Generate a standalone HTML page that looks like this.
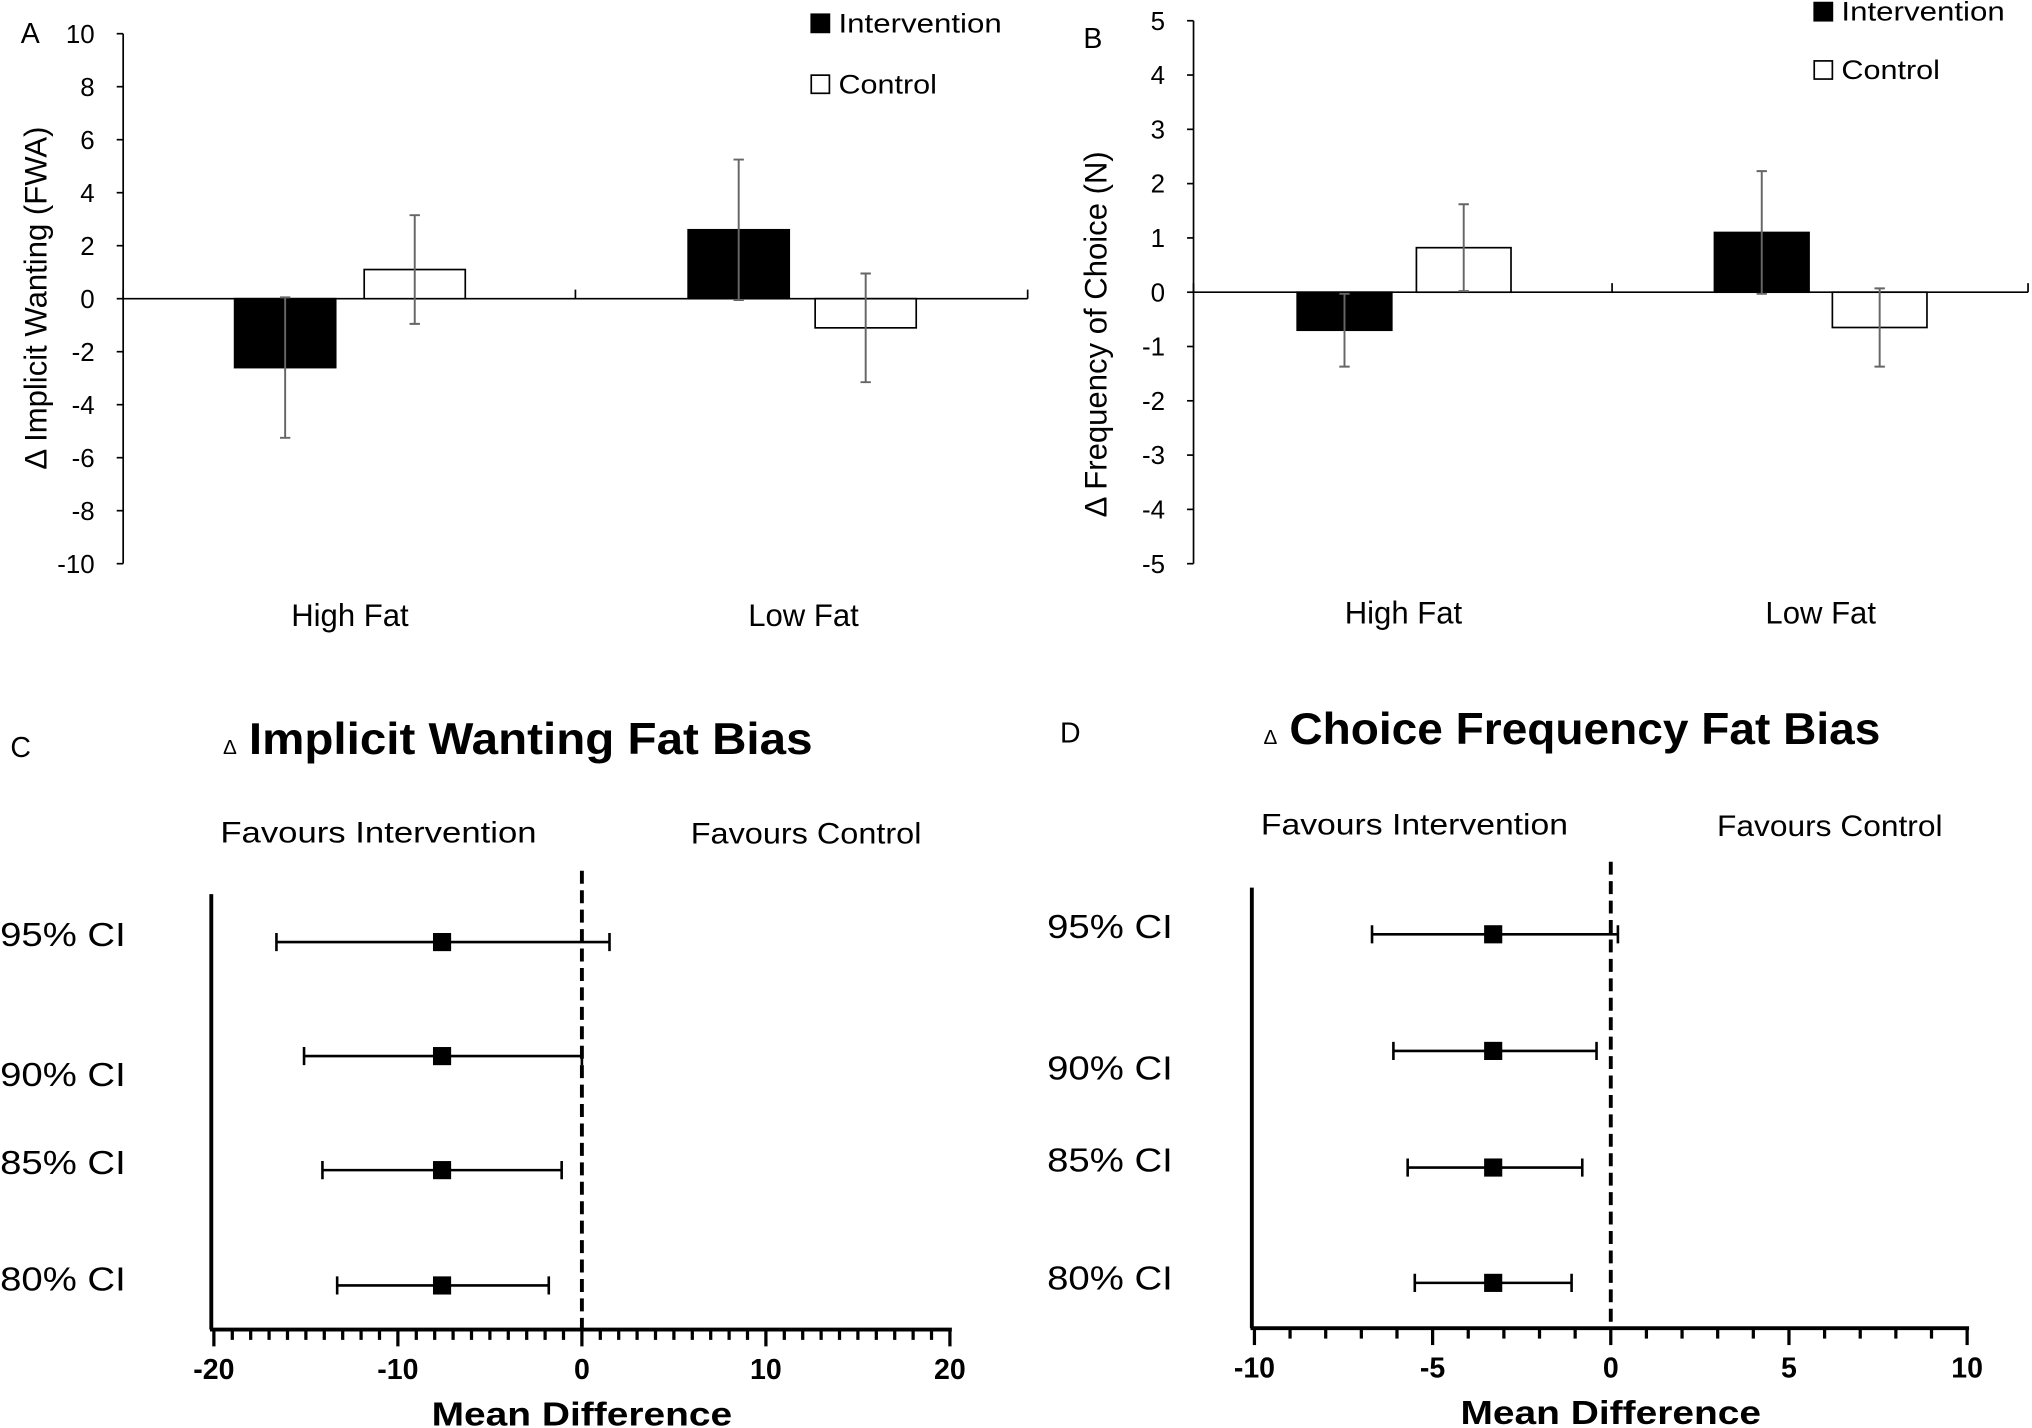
<!DOCTYPE html>
<html><head><meta charset="utf-8"><style>
html,body{margin:0;padding:0;background:#fff;}
svg{display:block;}
.s{font-family:"Liberation Sans","DejaVu Sans",sans-serif;}
</style></head><body>
<svg id="fig" width="2032" height="1428" viewBox="0 0 1568 1102" xmlns="http://www.w3.org/2000/svg" class="s">
<g id="A"></g>
<g id="B"></g>
<g id="C"></g>
<g id="D"></g>
</svg>
<script>
// Panel A data
const catsA = ["High Fat", "Low Fat"];
const interA = [-2.6, 2.6];
const interErrA = [2.65, 2.65];
const ctrlA = [1.1, -1.1];
const ctrlErrA = [2.05, 2.05];
const ticksA = [10, 8, 6, 4, 2, 0, -2, -4, -6, -8, -10];
// Panel B data
const catsB = ["High Fat", "Low Fat"];
const interB = [-0.7, 1.1];
const interErrB = [0.67, 1.13];
const ctrlB = [0.82, -0.65];
const ctrlErrB = [0.8, 0.72];
const ticksB = [5, 4, 3, 2, 1, 0, -1, -2, -3, -4, -5];
// Panel C data
const ciLabels = ["95% CI", "90% CI", "85% CI", "80% CI"];
const meanC = [-7.6, -7.6, -7.6, -7.6];
const lowC = [-16.6, -15.1, -14.1, -13.3];
const highC = [1.5, 0, -1.1, -1.8];
const ticksC = [-20, -10, 0, 10, 20];
// Panel D data
const meanD = [-3.3, -3.3, -3.3, -3.3];
const lowD = [-6.7, -6.1, -5.7, -5.5];
const highD = [0.2, -0.4, -0.8, -1.1];
const ticksD = [-10, -5, 0, 5, 10];

const NS = "http://www.w3.org/2000/svg";
function mk(parent, tag, attrs, text) {
  const e = document.createElementNS(NS, tag);
  for (const k in attrs) e.setAttribute(k, attrs[k]);
  if (text !== undefined) e.textContent = text;
  parent.appendChild(e);
  return e;
}
const SA = "spacingAndGlyphs";

function barPanel(g, o) {
  const y = v => o.y0 + (o.vmax - v) * (o.y1 - o.y0) / (o.vmax - o.vmin);
  const ax = mk(g, "line", {x1:o.ax, y1:o.y0, x2:o.ax, y2:o.y1, stroke:"#000", "stroke-width":1.3});
  
  
  o.ticks.forEach(t => {
    const tl = mk(g, "line", {x1:o.ax-5, x2:o.ax, y1:y(t), y2:y(t), stroke:"#000", "stroke-width":1.3});
    
    
    const tx = mk(g, "text", {x:o.ax-22, y:y(t)+7, "text-anchor":"end", "font-size":20}, String(t));
    
    
  });
  const xa = mk(g, "line", {x1:o.ax, x2:o.xend, y1:y(0), y2:y(0), stroke:"#000", "stroke-width":1.3});
  
  
  [o.ax, o.xmid, o.xend].forEach(x => {
    const t = mk(g, "line", {x1:x, x2:x, y1:y(0), y2:y(0)-7, stroke:"#000", "stroke-width":1.3});
    
    
  });
  o.cats.forEach((c, i) => {
    const groups = [[o.inter[i], o.interErr[i], o.intX[i], "#000", "bar-intervention"], [o.ctrl[i], o.ctrlErr[i], o.ctrlX[i], "#fff", "bar-control"]];
    groups.forEach(([v, e, x, fill, nm]) => {
      const r = mk(g, "rect", {x:x, y:Math.min(y(v), y(0)), width:o.bw, height:Math.abs(y(v)-y(0)), fill:fill, stroke:"#000", "stroke-width":1.3});
      
      
      const cx = x + o.bw/2;
      const eb = mk(g, "path", {d:`M${cx} ${y(v+e)}V${y(v-e)}M${cx-4} ${y(v+e)}H${cx+4}M${cx-4} ${y(v-e)}H${cx+4}`, stroke:"#666", "stroke-width":1.5, fill:"none"});
      
      
    });
    const l = mk(g, "text", {x:o.catX[i], y:o.catY, "text-anchor":"middle", "font-size":24}, c);
    
    
  });
  const yl = mk(g, "text", {x:0, y:0, transform:`translate(${o.ylx},${o.yly}) rotate(-90)`, "text-anchor":"middle", "font-size":24}, o.ylabel);
  
  
  const lt = mk(g, "text", {x:o.letter[0], y:o.letter[1], "font-size":22}, o.letter[2]);
  
  
  [["#000", "Intervention", o.leg[1], "legend-intervention", 126], ["#fff", "Control", o.leg[2], "legend-control", 76]].forEach(([f, t, ly, nm, tl]) => {
    const lg = mk(g, "g", {});
    
    
    mk(lg, "rect", {x:o.leg[0], y:ly, width:14, height:14, fill:f, stroke:"#000", "stroke-width":1.3});
    mk(lg, "text", {x:o.leg[0]+21, y:ly+14, "font-size":21, textLength:tl, lengthAdjust:SA}, t);
  });
}

barPanel(document.getElementById("A"), {
  cats:catsA, inter:interA, interErr:interErrA, ctrl:ctrlA, ctrlErr:ctrlErrA, ticks:ticksA,
  vmax:10, vmin:-10, y0:26, y1:435, ax:95, xmid:444, xend:793,
  intX:[181, 531], ctrlX:[281, 629], bw:78, catX:[270, 620], catY:483,
  ylabel:"Δ Implicit Wanting (FWA)", ylx:36, yly:230, letter:[16, 33, "A"], leg:[626, 11, 58]
});
barPanel(document.getElementById("B"), {
  cats:catsB, inter:interB, interErr:interErrB, ctrl:ctrlB, ctrlErr:ctrlErrB, ticks:ticksB,
  vmax:5, vmin:-5, y0:16, y1:435, ax:921, xmid:1244, xend:1565,
  intX:[1001, 1323], ctrlX:[1093, 1414], bw:73, catX:[1083, 1405], catY:481,
  ylabel:"Δ Frequency of Choice (N)", ylx:854, yly:258, letter:[836, 37, "B"], leg:[1400, 2, 47]
});

function forest(g, o) {
  const x = v => o.x0 + (v - o.vmin) * (o.x1 - o.x0) / (o.vmax - o.vmin);
  const d = mk(g, "text", {x:o.title[0], y:o.title[1], "font-size":16}, "Δ");
  
  
  const t = mk(g, "text", {x:o.title[0]+20, y:o.title[1], "font-size":34, "font-weight":"bold", textLength:o.titleLen, lengthAdjust:SA}, o.titleText);
  
  
  const lt = mk(g, "text", {x:o.letter[0], y:o.letter[1], "font-size":22}, o.letter[2]);
  
  
  const f1 = mk(g, "text", {x:o.fav[0], y:o.fav[1], "font-size":23, textLength:o.favLen[0], lengthAdjust:SA}, "Favours Intervention");
  
  
  const f2 = mk(g, "text", {x:o.fav[2], y:o.fav[3], "font-size":23, textLength:o.favLen[1], lengthAdjust:SA}, "Favours Control");
  
  
  const vl = mk(g, "line", {x1:o.x0-2, x2:o.x0-2, y1:o.vtop, y2:o.axY, stroke:"#000", "stroke-width":3});
  
  
  const dl = mk(g, "line", {x1:x(0), x2:x(0), y1:o.dtop, y2:o.axY, stroke:"#000", "stroke-width":3, "stroke-dasharray":"10 5"});
  
  
  const xa = mk(g, "line", {x1:o.x0-3, x2:o.x1+1.5, y1:o.axY, y2:o.axY, stroke:"#000", "stroke-width":3});
  
  
  for (let v = o.vmin; v <= o.vmax; v++) {
    const major = o.ticks.includes(v);
    const tk = mk(g, "line", {x1:x(v), x2:x(v), y1:o.axY, y2:o.axY + (major ? 13 : 8), stroke:"#000", "stroke-width":2.5});
    
    
  }
  o.ticks.forEach(v => {
    const tx = mk(g, "text", {x:x(v), y:o.axY+38, "text-anchor":"middle", "font-size":22, "font-weight":"bold"}, String(v));
    
    
  });
  const xt = mk(g, "text", {x:x(0)-116, y:o.axY+74, "font-size":26, "font-weight":"bold", textLength:232, lengthAdjust:SA}, "Mean Difference");
  
  
  ciLabels.forEach((lab, i) => {
    const ry = o.rows[i];
    const lb = mk(g, "text", {x:o.labX, y:o.labY[i], "font-size":26, textLength:97, lengthAdjust:SA}, lab);
    
    
    const a = x(o.low[i]), b = x(o.high[i]);
    const ci = mk(g, "path", {d:`M${a} ${ry}H${b}M${a} ${ry-7}V${ry+7}M${b} ${ry-7}V${ry+7}`, stroke:"#000", "stroke-width":2, fill:"none"});
    
    
    const m = mk(g, "rect", {x:x(o.mean[i])-7, y:ry-7, width:14, height:14, fill:"#000"});
    
    
  });
}

forest(document.getElementById("C"), {
  vmin:-20, vmax:20, x0:165, x1:733, axY:1026, vtop:690, dtop:672, ticks:ticksC,
  rows:[727, 815, 903, 992], mean:meanC, low:lowC, high:highC,
  labX:0, labY:[730, 838, 906, 996],
  title:[172, 582], titleText:"Implicit Wanting Fat Bias", titleLen:435, letter:[8, 584, "C"],
  fav:[170, 650, 533, 651], favLen:[244, 178]
});
forest(document.getElementById("D"), {
  vmin:-10, vmax:10, x0:968, x1:1518, axY:1025, vtop:685, dtop:665, ticks:ticksD,
  rows:[721, 811, 901, 990], mean:meanD, low:lowD, high:highD,
  labX:808, labY:[724, 833, 904, 995],
  title:[975, 574], titleText:"Choice Frequency Fat Bias", titleLen:456, letter:[818, 573, "D"],
  fav:[973, 644, 1325, 645], favLen:[237, 174]
});
</script>
</body></html>
